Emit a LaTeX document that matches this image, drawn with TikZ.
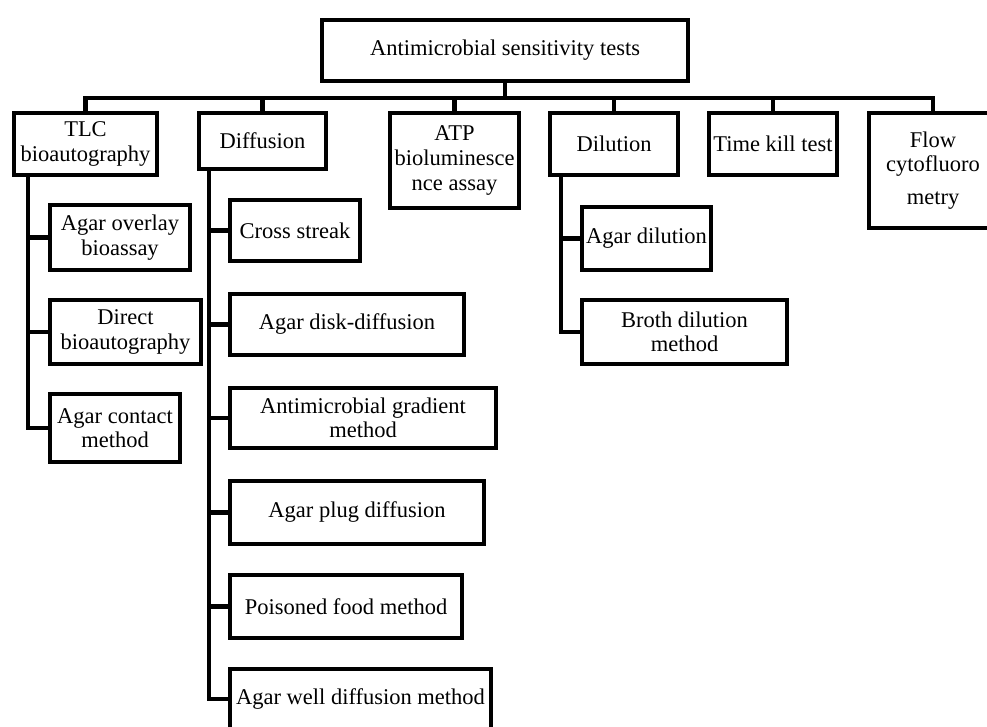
\documentclass[tikz,border=0pt]{standalone}
\usepackage{fontspec}
\setmainfont{Liberation Serif}
\usetikzlibrary{positioning,calc}

\begin{document}
\begin{tikzpicture}[x=0.025cm, y=-0.025cm,
    box/.style={draw, line width=3pt, align=center, inner sep=0pt, font=\fontsize{16}{17.5}\selectfont},
    link/.style={line width=3pt}]
    \useasboundingbox (0,0) rectangle (987,727);
    \clip (0,0) rectangle (987,727);
    \fill[white] (0,0) rectangle (987,727);

    % Root
    \node[box, minimum width=9.15cm, minimum height=1.525cm] (root) at (505,50.5) {Antimicrobial sensitivity tests};

    % Main groups
    \node[box, minimum width=3.575cm, minimum height=1.55cm] (tlc) at (85.5,144) {TLC\\bioautography};
    \node[box, minimum width=3.175cm, minimum height=1.4cm] (diff) at (262.5,141) {Diffusion};
    \node[box, minimum width=3.225cm, minimum height=2.375cm] (atp) at (454.5,160.5) {ATP\\bioluminesce\\nce assay};
    \node[box, minimum width=3.2cm, minimum height=1.55cm] (dil) at (614,144) {Dilution};
    \node[box, minimum width=3.2cm, minimum height=1.55cm] (kill) at (773,144) {Time kill test};
    \node[box, minimum width=3.2cm, minimum height=2.875cm] (flow) at (933,170.5) {Flow\\cytofluoro\\[6pt]metry};

    % Bus from root to groups
    \coordinate (bus) at (505,98);
    \draw[link] (root.south) -- (bus);
    \draw[link] (tlc.north) |- (bus) -| (flow.north);
    \foreach \n in {diff,atp,dil,kill}
        \draw[link] (\n.north) -- (\n.north |- bus);

    % TLC bioautography methods
    \node[box, minimum width=3.5cm, minimum height=1.625cm] (overlay) at (120,237.5) {Agar overlay\\bioassay};
    \node[box, minimum width=3.775cm, minimum height=1.6cm] (direct) at (125.5,332) {Direct\\bioautography};
    \node[box, minimum width=3.25cm, minimum height=1.7cm] (contact) at (115,428) {Agar contact\\method};

    \draw[link] (tlc.south) ++(-57.5,0) coordinate (tlcT) |- (contact.west);
    \foreach \n in {overlay,direct}
        \draw[link] (tlcT |- \n.west) -- (\n.west);

    % Diffusion methods
    \node[box, minimum width=3.25cm, minimum height=1.525cm] (streak) at (295,230.5) {Cross streak};
    \node[box, minimum width=5.85cm, minimum height=1.525cm] (disk) at (347,324.5) {Agar disk-diffusion};
    \node[box, minimum width=6.65cm, minimum height=1.5cm] (grad) at (363,418) {Antimicrobial gradient\\method};
    \node[box, minimum width=6.35cm, minimum height=1.575cm] (plug) at (357,512.5) {Agar plug diffusion};
    \node[box, minimum width=5.8cm, minimum height=1.575cm] (food) at (346,606.5) {Poisoned food method};
    \node[box, minimum width=6.525cm, minimum height=1.5cm] (well) at (360.5,699) {Agar well diffusion method};

    \draw[link] (diff.south) ++(-53.5,0) coordinate (diffT) |- (well.west);
    \foreach \n in {streak,disk,grad,plug,food}
        \draw[link] (diffT |- \n.west) -- (\n.west);

    % Dilution methods
    \node[box, minimum width=3.225cm, minimum height=1.575cm] (agdil) at (646.5,238.5) {Agar dilution};
    \node[box, minimum width=5.125cm, minimum height=1.6cm] (broth) at (684.5,332) {Broth dilution\\method};

    \draw[link] (dil.south) ++(-53,0) coordinate (dilT) |- (broth.west);
    \draw[link] (dilT |- agdil.west) -- (agdil.west);
\end{tikzpicture}
\end{document}
